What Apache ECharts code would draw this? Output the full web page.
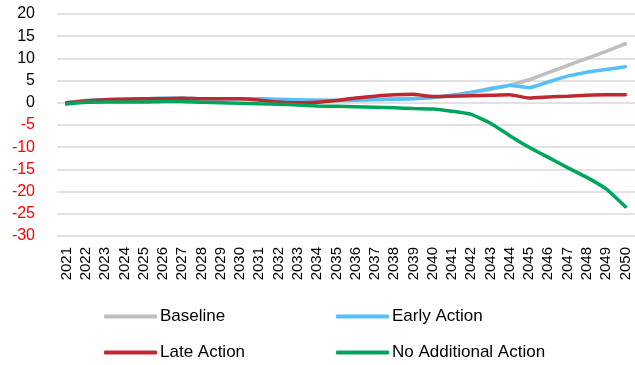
<!DOCTYPE html>
<html>
<head>
<meta charset="utf-8">
<script src="https://cdn.jsdelivr.net/npm/echarts@6/dist/echarts.min.js"></script>
<style>
  html, body { margin: 0; padding: 0; background: #fff; }
  #chart { width: 635px; height: 365px; }
</style>
</head>
<body>
<div id="chart"></div>
<script>
// Years on the category axis
const years = [2021,2022,2023,2024,2025,2026,2027,2028,2029,2030,
               2031,2032,2033,2034,2035,2036,2037,2038,2039,2040,
               2041,2042,2043,2044,2045,2046,2047,2048,2049,2050].map(String);

// Scenario values
const baseline = [0.0,0.5,0.7,0.8,0.9,1.0,1.0,0.9,0.9,0.9,
                  0.8,0.7,0.6,0.6,0.6,0.7,0.8,0.9,1.0,1.2,
                  1.7,2.3,3.0,4.0,5.2,6.8,8.4,10.0,11.6,13.3];
const earlyAction = [0.0,0.5,0.7,0.8,0.9,1.0,1.0,0.9,0.9,0.9,
                     0.9,0.8,0.7,0.6,0.5,0.6,0.7,0.8,0.9,1.2,
                     1.7,2.4,3.2,3.9,3.4,4.7,6.0,6.9,7.5,8.1];
const lateAction = [0.0,0.4,0.7,0.8,0.9,0.9,1.0,0.9,0.9,0.9,
                    0.6,0.2,0.0,0.1,0.5,1.1,1.5,1.8,1.9,1.4,
                    1.5,1.6,1.7,1.8,1.1,1.3,1.5,1.7,1.8,1.8];
const noAdditionalAction = [-0.3,0.1,0.2,0.2,0.2,0.3,0.3,0.1,0.0,-0.1,
                            -0.2,-0.3,-0.5,-0.7,-0.8,-0.9,-1.0,-1.1,-1.3,-1.4,
                            -1.9,-2.6,-4.6,-7.4,-10.0,-12.3,-14.6,-16.8,-19.4,-23.4];

// Value axis range and step
const yMin = -30, yMax = 20, yStep = 5;

const seriesDefs = [
  { name: 'Baseline', data: baseline, color: '#BFBFBF' },
  { name: 'Early Action', data: earlyAction, color: '#55C1F8' },
  { name: 'Late Action', data: lateAction, color: '#C0282F' },
  { name: 'No Additional Action', data: noAdditionalAction, color: '#00A55C' }
];

const font = '"Liberation Sans", Arial, sans-serif';

// One legend per entry so the two-column layout lines up
const legendPos = [
  { left: 104, top: 308 },
  { left: 336, top: 308 },
  { left: 104, top: 344 },
  { left: 336, top: 344 }
];

const chart = echarts.init(document.getElementById('chart'), null, { renderer: 'canvas' });
chart.setOption({
  animation: false,
  backgroundColor: '#fff',
  grid: { left: 57, right: 0, top: 14, height: 222 },
  legend: seriesDefs.map((s, i) => ({
    data: [s.name],
    left: legendPos[i].left,
    top: legendPos[i].top,
    itemWidth: 53,
    itemHeight: 4,
    itemGap: 0,
    icon: 'roundRect',
    padding: 0,
    selectedMode: false,
    textStyle: { fontFamily: font, fontSize: 17, color: '#000', padding: [0, 0, 0, -2] }
  })),
  xAxis: {
    type: 'category',
    data: years,
    boundaryGap: true,
    axisLine: { show: false },
    axisTick: { show: false },
    axisLabel: {
      rotate: 90,
      margin: 11,
      interval: 0,
      fontFamily: font,
      fontSize: 15,
      color: '#000'
    }
  },
  yAxis: {
    type: 'value',
    min: yMin,
    max: yMax,
    interval: yStep,
    axisLine: { show: false },
    axisTick: { show: false },
    splitLine: { lineStyle: { color: '#D9D9D9', width: 1.5 } },
    axisLabel: {
      margin: 22,
      fontFamily: font,
      fontSize: 16,
      color: v => (v < 0 ? '#FF0000' : '#000')
    }
  },
  series: seriesDefs.map(s => ({
    name: s.name,
    type: 'line',
    data: s.data,
    symbol: 'none',
    smooth: 0.15,
    lineStyle: { color: s.color, width: 3.5, cap: 'round' },
    itemStyle: { color: s.color }
  }))
});
</script>
</body>
</html>
